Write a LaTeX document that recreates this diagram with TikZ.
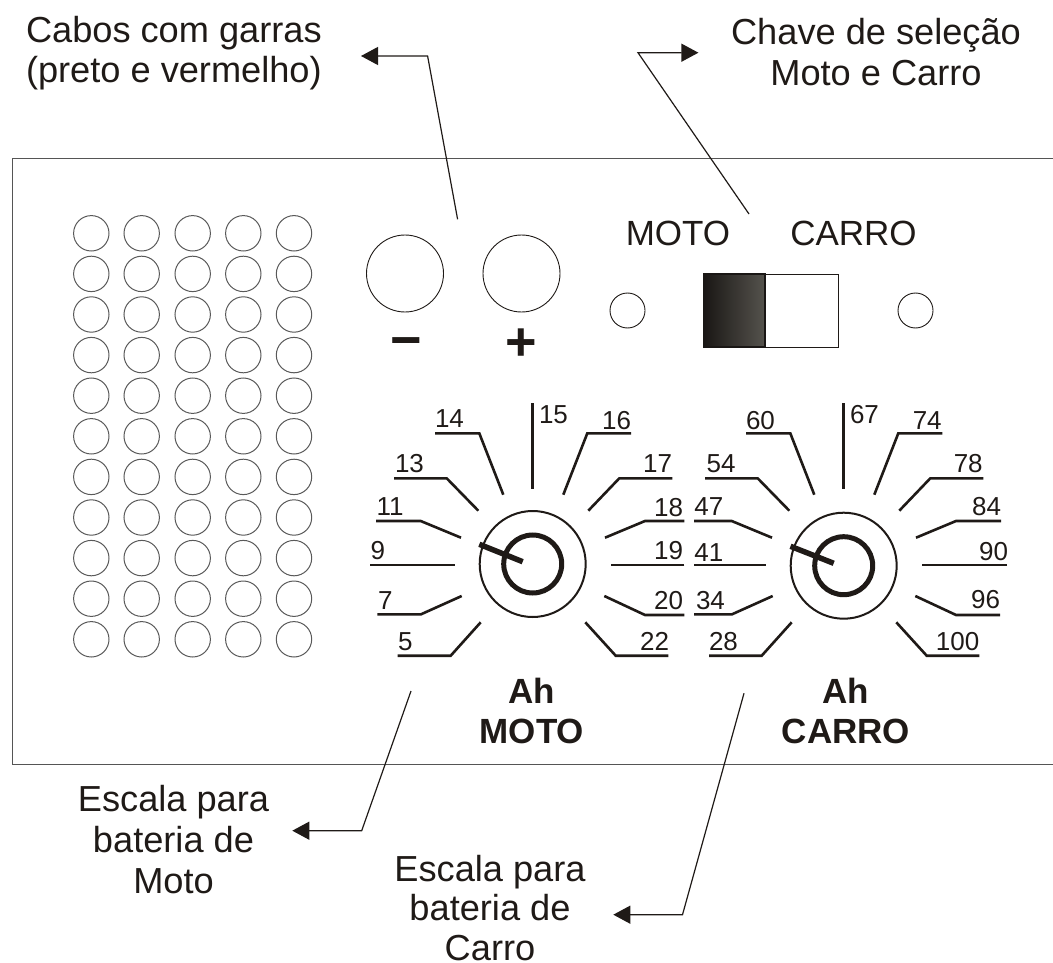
\documentclass[tikz,border=0pt]{standalone}
\usepackage{fontspec}
\setmainfont{Liberation Sans}
\usetikzlibrary{arrows.meta}
\definecolor{ink}{HTML}{1F1A17}
\definecolor{dkA}{HTML}{1A1715}
\definecolor{dkB}{HTML}{55534D}
\definecolor{panelc}{HTML}{555555}
\tikzset{
  big/.style={inner sep=0pt,outer sep=0pt,text=ink,font=\fontsize{35}{41}\selectfont},
  bigc/.style={big,font=\fontsize{36.2}{41}\selectfont},
  bigb/.style={big,font=\fontsize{35}{40.5}\selectfont\bfseries},
  multi/.style={bigc,align=center,anchor=center},
  num/.style={inner sep=0pt,outer sep=0pt,text=ink,font=\fontsize{26}{30}\selectfont},
  sign/.style={inner sep=0pt,outer sep=0pt,text=ink,font=\fontsize{54}{54}\selectfont\bfseries,anchor=base},
  leader/.style={draw=ink,line width=1.2pt},
  leadarrow/.style={leader,-{Triangle[length=17pt,width=18pt]}},
  tickline/.style={draw=ink,line width=2.6pt},
  hole/.style={circle,draw=black!65,line width=1pt,minimum size=35.4pt,inner sep=0pt},
  jack/.style={circle,draw=ink,line width=.9pt,minimum size=77pt,inner sep=0pt},
  led/.style={circle,draw=ink,line width=.9pt,minimum size=35pt,inner sep=0pt},
  dialouter/.style={circle,draw=ink,line width=2pt,minimum size=106pt,inner sep=0pt},
  dialinner/.style={circle,draw=ink,line width=5pt,minimum size=58pt,inner sep=0pt},
  pointer/.style={draw=ink,line width=5.5pt},
}
\begin{document}
\begin{tikzpicture}[x=1pt,y=-1pt]
\useasboundingbox (0,0) rectangle (1053,963);
% panel
\draw[panelc,line width=1pt] (1053,158.3) -- (12.7,158.3) -- (12.7,764.5) -- (1053,764.5);
% speaker holes
\foreach \cx in {91.3,141.7,192.7,243.3,294}
  \foreach \cy in {233.3,273.9,314.5,355.1,395.7,436.3,476.9,517.5,558.1,598.7,639.3}
    \node[hole] (hole-\cx-\cy) at (\cx,\cy) {};
% terminals
\node[jack] (neg) at (405,273.5) {};
\node[jack] (pos) at (521.5,273.5) {};
\node[sign] (minus) at (406,358) {−};
\node[sign] (plus) at (521.7,360) {+};
% switch
\node[big,anchor=base] (lmoto) at (678,245) {MOTO};
\node[big,anchor=base] (lcarro) at (853.5,245) {CARRO};
\node[led] (led1) at (627.5,310.5) {};
\node[led] (led2) at (915.5,310.5) {};
\node[draw=ink,line width=1pt,fill=white,minimum width=134pt,minimum height=73pt,inner sep=0pt] (sw) at (771,310.5) {};
\node[draw=dkA,line width=2pt,left color=dkA,right color=dkB,minimum width=61pt,minimum height=73pt,inner sep=0pt] (swk) at (734.5,310.5) {};
% dials
\foreach \n/\cx/\cy in {m/532.7/564,c/843.7/565.7}{
  \node[dialouter] (outer\n) at (\cx,\cy) {};
  \node[dialinner] (inner\n) at (\cx,\cy) {};
}
\coordinate (pma) at (479.3,544.3); \coordinate (pmb) at (522.7,561.7);
\coordinate (pca) at (790.5,546.3); \coordinate (pcb) at (833.7,563.3);
\draw[pointer] (pma) -- (pmb);
\draw[pointer] (pca) -- (pcb);
% scales
\foreach \a/\b/\c in {{435,433.3}/{479.3,433.3}/{503.3,494.7},
 {631,433.3}/{587.3,433.3}/{563.3,494.7},
 {394,478.3}/{446.7,478.3}/{478.3,510.7},
 {672.3,478.3}/{619.3,478.3}/{588.3,510.7},
 {376,521}/{420.7,521}/{461,537.7},
 {684.3,521}/{645,521}/{605,537.7},
 {377.3,614.3}/{421,614.3}/{461.7,596},
 {684.3,615}/{645,615}/{604.3,596},
 {397.7,655.7}/{450.7,655.7}/{480.7,622.3},
 {668.3,655.7}/{615.7,655.7}/{585.3,622.3},
 {746,433.3}/{790.3,433.3}/{814.3,494.7},
 {942.3,433.3}/{898.3,433.3}/{874.3,494.7},
 {705,478.3}/{757.7,478.3}/{789.3,510.7},
 {983.3,478.3}/{930.3,478.3}/{899.3,510.7},
 {694,521}/{731.7,521}/{772,537.7},
 {1001,521}/{956,521}/{916,537.7},
 {694,614.3}/{732,614.3}/{772.7,596},
 {1000,615}/{956,615}/{915.3,596},
 {709,655.7}/{761.7,655.7}/{791.7,622.3},
 {979.3,655.7}/{926.7,655.7}/{896.3,622.3}}
  \draw[tickline] (\a) -- (\b) -- (\c);
\draw[tickline] (532.7,403.3) -- (532.7,488.7);
\draw[tickline] (370,565) -- (455,565);
\draw[tickline] (684.3,565) -- (611,565);
\draw[tickline] (843.7,403.3) -- (843.7,488.7);
\draw[tickline] (694,565) -- (766,565);
\draw[tickline] (1007,565) -- (922,565);
% numbers
\foreach \t/\x/\y in {14/435/427.7,15/539/423.3,13/395/472.7,11/376.7/515,9/370.7/559,7/378/609,5/398/650,
 60/746/429.3,67/850/423.3,54/706.7/472.7,47/694.3/515,41/694.3/561,34/696/609,28/709/650}
  \node[num,anchor=base west] (n\t) at (\x,\y) {\t};
\foreach \t/\x/\y in {16/631/429.3,17/672/472.7,18/683/516,19/683/559,20/683/609,22/669/650,
 74/941.7/429.3,78/982.7/472.7,84/1001/515,90/1008/560,96/1000/608,100/979.3/650}
  \node[num,anchor=base east] (n\t) at (\x,\y) {\t};
% dial titles
\node[bigb,align=center,anchor=center] (tm) at (532,711) {Ah\\MOTO};
\node[bigb,align=center,anchor=center] (tc) at (846,711) {Ah\\CARRO};
% callouts
\node[bigc,align=left,anchor=north west,font=\fontsize{36.2}{39.5}\selectfont] (cabos) at (26,16.5) {Cabos com garras\\(preto e vermelho)};
\node[multi] (chave) at (876,52) {Chave de seleção\\Moto e Carro};
\node[multi] (em) at (173.5,840) {Escala para\\bateria de\\Moto};
\node[multi,font=\fontsize{36.2}{39.5}\selectfont] (ec) at (490,908) {Escala para\\bateria de\\Carro};
% leaders
\coordinate (a1s) at (457.6,219.3); \coordinate (a1e) at (427.6,56); \coordinate (a1t) at (361,56);
\coordinate (a2s) at (749,214);     \coordinate (a2e) at (638,52.7); \coordinate (a2t) at (698.4,52.7);
\coordinate (a3s) at (411,691);     \coordinate (a3e) at (361.7,830.7); \coordinate (a3t) at (292.3,830.7);
\coordinate (a4s) at (744,693.3);   \coordinate (a4e) at (682.5,914.7); \coordinate (a4t) at (613.3,914.7);
\foreach \i in {1,2,3,4}
  \draw[leadarrow] (a\i s) -- (a\i e) -- (a\i t);
\end{tikzpicture}
\end{document}
